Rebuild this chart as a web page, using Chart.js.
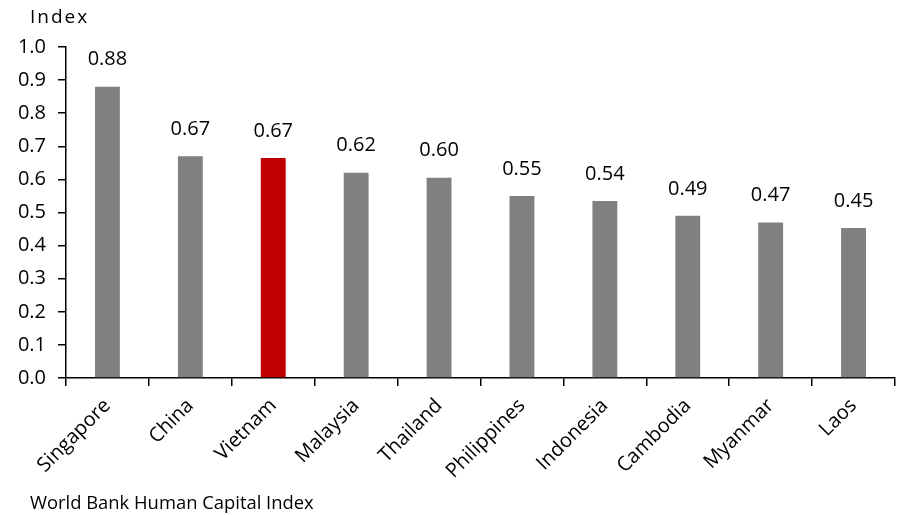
<!DOCTYPE html>
<html>
<head>
<meta charset="utf-8">
<script src="https://cdn.jsdelivr.net/npm/chart.js@4"></script>
<style>
  body { margin:0; background:#fff; }
  #wrap { position:relative; width:901px; height:515px; }
  #titre { position:absolute; left:30px; top:3px; font:19px 'Open Sans'; letter-spacing:2px; color:#000; }
  #source { position:absolute; left:30px; top:489px; font:18.4px 'Open Sans'; color:#000; }
</style>
</head>
<body>
<div id="wrap">
  <canvas id="graphique" width="901" height="515"></canvas>
  <div id="titre">Index</div>
  <div id="source">World Bank Human Capital Index</div>
</div>
<script>
var pays = ['Singapore','China','Vietnam','Malaysia','Thailand','Philippines','Indonesia','Cambodia','Myanmar','Laos'];
var indice = [0.88, 0.67, 0.665, 0.62, 0.605, 0.55, 0.535, 0.49, 0.47, 0.453];
var ticks_y = [0.0,0.1,0.2,0.3,0.4,0.5,0.6,0.7,0.8,0.9,1.0];

var couleurs = [];
var i;
for(i=0;i<pays.length;i++){
  if(pays[i]=='Vietnam') couleurs[i]='#C00000';
  else couleurs[i]='#808080';
}

// etiquettes au dessus des barres
var etiquettes = {
  id: 'etiquettes',
  afterDatasetsDraw: function(chart){
    var ctx = chart.ctx;
    var meta = chart.getDatasetMeta(0);
    ctx.save();
    ctx.font = "20px 'Open Sans'";
    ctx.fillStyle = '#000';
    ctx.textAlign = 'center';
    ctx.textBaseline = 'middle';
    meta.data.forEach(function(bar, j){
      ctx.fillText(indice[j].toFixed(2), bar.x, bar.y - 27);
    });
    ctx.restore();
  }
};

var ctx = document.getElementById('graphique').getContext('2d');
var myBarChart = new Chart(ctx, {
  type: 'bar',
  data: {
    labels: pays,
    datasets: [{
      data: indice,
      backgroundColor: couleurs,
      barPercentage: 0.3,
      categoryPercentage: 1.0
    }]
  },
  options: {
    responsive: false,
    animation: false,
    layout: { padding: { top: 47, right: 6, left: 0, bottom: 0 } },
    plugins: { legend: { display: false }, tooltip: { enabled: false } },
    scales: {
      x: {
        afterFit: function(s){ s.height = 137; },
        grid: { display: true, drawOnChartArea: false, drawTicks: true, tickLength: 8, tickColor: '#000', lineWidth: 1.5, offset: true },
        border: { display: true, color: '#000', width: 1.5 },
        ticks: { color: '#000', font: { family: 'Open Sans', size: 20 }, maxRotation: 45, minRotation: 45, padding: 8 }
      },
      y: {
        min: 0, max: 1.0,
        afterFit: function(s){ s.width = 66; },
        afterBuildTicks: function(s){ s.ticks = ticks_y.map(function(v){ return {value: v}; }); },
        grid: { display: true, drawOnChartArea: false, drawTicks: true, tickLength: 8, tickColor: '#000', lineWidth: 1.5 },
        border: { display: true, color: '#000', width: 1.5 },
        ticks: { color: '#000', font: { family: 'Open Sans', size: 20 }, padding: 12,
          callback: function(v){ return Number(v).toFixed(1); } }
      }
    }
  },
  plugins: [etiquettes]
});
</script>
</body>
</html>
